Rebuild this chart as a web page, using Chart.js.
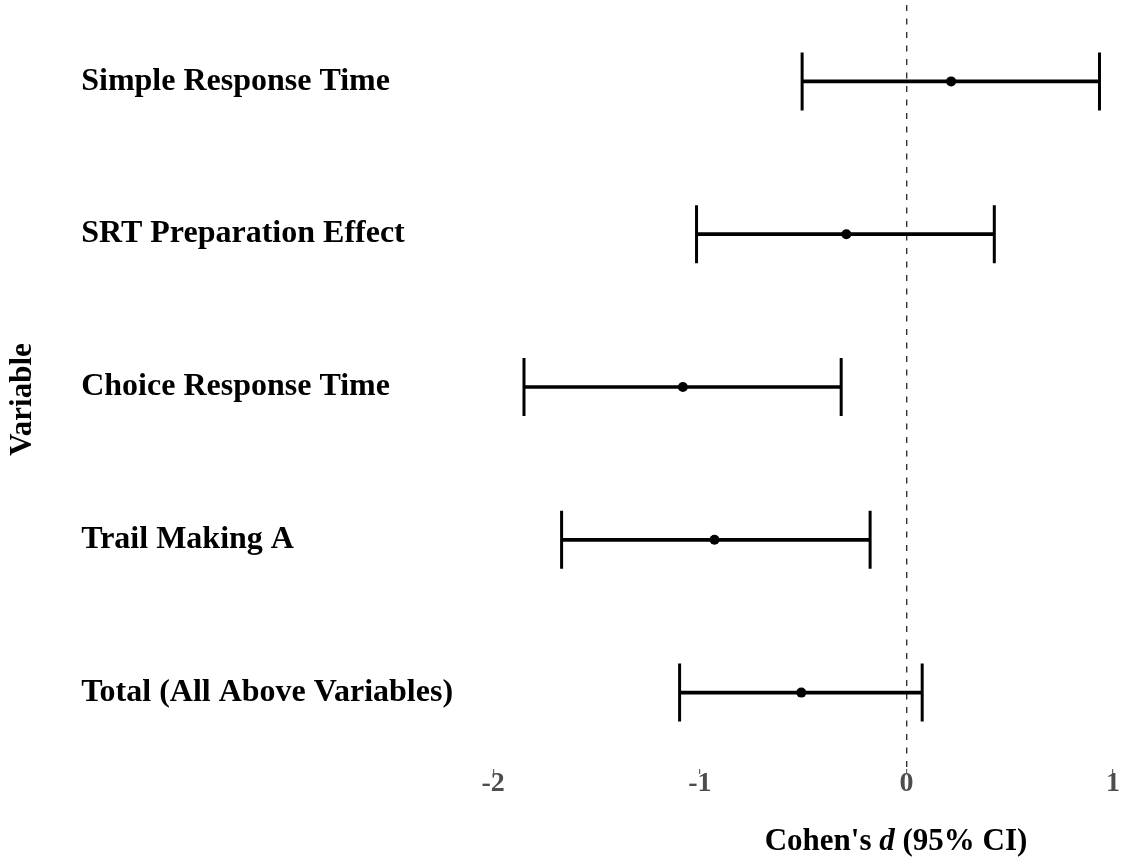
<!DOCTYPE html>
<html>
<head>
<meta charset="utf-8">
<title>Cohen's d by variable</title>
<script src="https://cdn.jsdelivr.net/npm/chart.js@4/dist/chart.umd.min.js"></script>
<style>
  html, body { margin: 0; padding: 0; background: #fff; }
  canvas { display: block; }
</style>
</head>
<body>
<canvas id="forestChart" width="1128" height="859"></canvas>
<script>
// Effect sizes (Cohen's d) with 95% confidence limits, one row per variable
const variables = [
    'Simple Response Time',
    'SRT Preparation Effect',
    'Choice Response Time',
    'Trail Making A',
    'Total (All Above Variables)'
];
const estimates = [0.216, -0.291, -1.082, -0.929, -0.509];
const lowerCI = [-0.505, -1.016, -1.851, -1.669, -1.098];
const upperCI = [0.934, 0.425, -0.316, -0.176, 0.076];
const xTicks = [-2, -1, 0, 1];

const serif = '"Liberation Serif", "Times New Roman", serif';

// Axis title with an italic "d" in the middle, drawn under the x axis
const xTitlePlugin = {
    id: 'xTitle',
    afterDraw(chart, args, opts) {
        const ctx = chart.ctx;
        const parts = [
            { text: "Cohen's ", style: 'bold' },
            { text: 'd', style: 'italic bold' },
            { text: ' (95% CI)', style: 'bold' }
        ];
        ctx.save();
        ctx.fillStyle = '#000';
        ctx.textBaseline = 'alphabetic';
        ctx.textAlign = 'left';
        let total = 0;
        parts.forEach(p => {
            ctx.font = `${p.style} ${opts.size}px ${serif}`;
            p.width = ctx.measureText(p.text).width;
            total += p.width;
        });
        let x = opts.centerX - total / 2;
        parts.forEach(p => {
            ctx.font = `${p.style} ${opts.size}px ${serif}`;
            ctx.fillText(p.text, x, opts.baseline);
            x += p.width;
        });
        ctx.restore();
    }
};

const rowPoint = (v, i) => ({ x: v, y: variables[i] });

new Chart(document.getElementById('forestChart'), {
    type: 'bar',
    data: {
        labels: variables,
        datasets: [
            {
                type: 'scatter',
                label: 'Estimate',
                data: estimates.map(rowPoint),
                pointRadius: 5,
                pointBackgroundColor: '#000',
                pointBorderWidth: 0
            },
            {
                type: 'scatter',
                label: 'CI limits',
                data: lowerCI.map(rowPoint).concat(upperCI.map(rowPoint)),
                pointStyle: 'line',
                pointRotation: 90,
                pointRadius: 29,
                pointBorderWidth: 3,
                pointBorderColor: '#000'
            },
            {
                type: 'bar',
                label: '95% CI',
                data: lowerCI.map((lo, i) => [lo, upperCI[i]]),
                backgroundColor: '#000',
                borderWidth: 0,
                barThickness: 3
            }
        ]
    },
    options: {
        indexAxis: 'y',
        responsive: false,
        animation: false,
        events: [],
        layout: {
            autoPadding: false,
            padding: { top: 5, bottom: 65, left: 0, right: 0 }
        },
        scales: {
            x: {
                type: 'linear',
                min: -2,
                max: 1.072,
                afterBuildTicks: scale => {
                    scale.ticks = xTicks.map(v => ({ value: v }));
                },
                grid: {
                    // only the zero line is shown, dashed
                    color: ctx => (ctx.tick && ctx.tick.value === 0 ? '#333' : 'rgba(0,0,0,0)'),
                    lineWidth: 1.4,
                    tickColor: '#444',
                    tickWidth: 1,
                    tickLength: 5
                },
                border: { display: false, dash: [6, 7.5] },
                ticks: {
                    color: '#4d4d4d',
                    font: { family: serif, size: 28, weight: 'bold', lineHeight: 1 },
                    padding: -4,
                    maxRotation: 0,
                    callback: v => String(v)
                }
            },
            y: {
                type: 'category',
                offset: true,
                grid: { display: false },
                border: { display: false },
                ticks: {
                    crossAlign: 'far',
                    color: '#000',
                    // single-line labels; a small line height keeps the axis from padding the top
                    font: { family: serif, size: 32, weight: 'bold', lineHeight: 0.3 },
                    padding: 0
                },
                afterFit: scale => {
                    scale.width = 412;
                }
            }
        },
        plugins: {
            legend: { display: false },
            tooltip: { enabled: false },
            title: {
                display: true,
                text: 'Variable',
                position: 'left',
                color: '#000',
                font: { family: serif, size: 31, weight: 'bold', lineHeight: 1.2 },
                padding: { top: 4, bottom: 40 }
            },
            xTitle: { centerX: 896, baseline: 850, size: 31 }
        }
    },
    plugins: [xTitlePlugin]
});
</script>
</body>
</html>
